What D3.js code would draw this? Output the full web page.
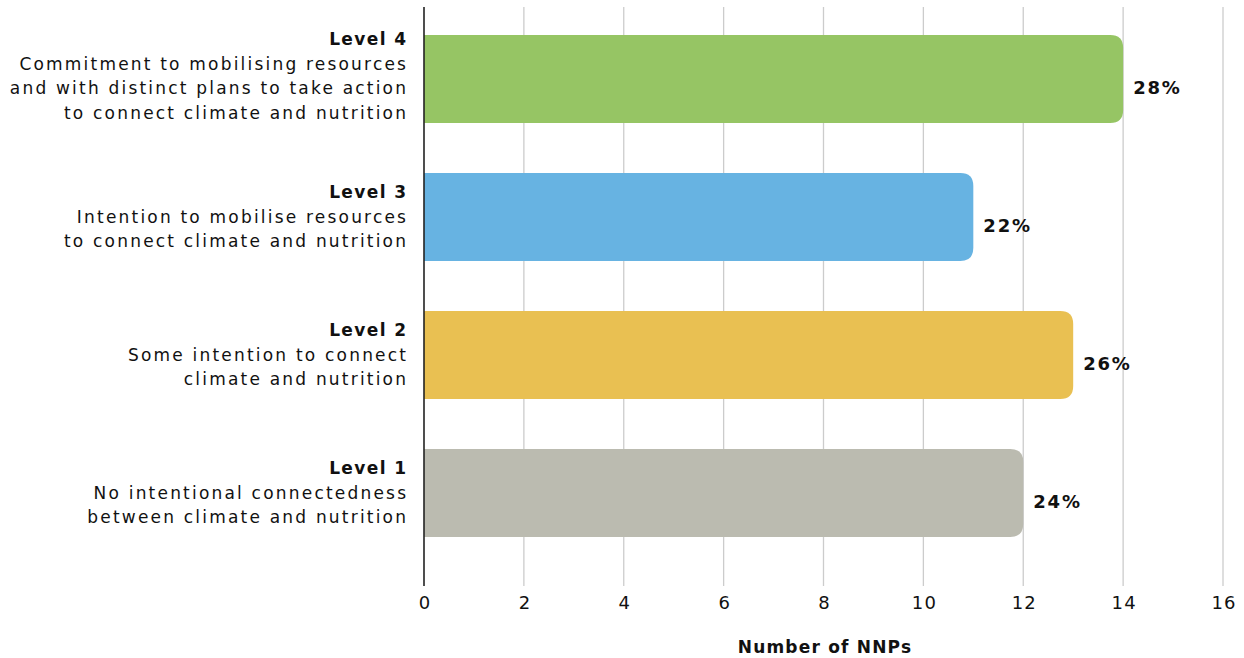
<!DOCTYPE html>
<html><head><meta charset="utf-8">
<script src="https://cdn.jsdelivr.net/npm/d3@7"></script>
<style>body{margin:0;background:#fff;} svg{display:block;font-family:"DejaVu Sans",sans-serif;}</style>
</head><body>
<svg id="chart" width="1244" height="658"></svg>
<script>
const levels = ["Level 4","Level 3","Level 2","Level 1"];
const descriptions = [
  ["Commitment to mobilising resources","and with distinct plans to take action","to connect climate and nutrition"],
  ["Intention to mobilise resources","to connect climate and nutrition"],
  ["Some intention to connect","climate and nutrition"],
  ["No intentional connectedness","between climate and nutrition"]
];
const values = [14, 11, 13, 12];
const percents = ["28%","22%","26%","24%"];
const colors = ["#96c564","#67b3e2","#e9c052","#bbbbb0"];
const xTicks = [0,2,4,6,8,10,12,14,16];
const xTitle = "Number of NNPs";

const svg = d3.select("#chart");
const x = d3.scaleLinear().domain([0,16]).range([424,1223]);
const y = d3.scaleBand().domain(levels).range([10,562]).paddingInner(0.362).paddingOuter(0.181);
const plotTop = 7, plotBottom = 586;
const textColor = "#111";

// gridlines
svg.append("g").selectAll("line").data(xTicks.filter(d=>d>0)).join("line")
  .attr("x1",d=>x(d)).attr("x2",d=>x(d)).attr("y1",plotTop).attr("y2",plotBottom)
  .attr("stroke","#cccccc").attr("stroke-width",1.3);

// axis
const ax = svg.append("g").attr("transform",`translate(0,${plotBottom})`)
  .call(d3.axisBottom(x).tickValues(xTicks).tickSize(0).tickPadding(10));
ax.select(".domain").remove();
ax.selectAll("text").attr("font-size",18).attr("letter-spacing",1.2).attr("dx","0.6")
  .attr("fill",textColor).attr("font-family","DejaVu Sans,sans-serif");

// bars with right rounded corners
const r = 13;
function barPath(x0,x1,y0,h){
  return `M${x0},${y0}H${x1-r}Q${x1},${y0} ${x1},${y0+r}V${y0+h-r}Q${x1},${y0+h} ${x1-r},${y0+h}H${x0}Z`;
}
svg.append("g").selectAll("path").data(levels).join("path")
  .attr("d",(d,i)=>barPath(x(0),x(values[i]),y(d),y.bandwidth()))
  .attr("fill",(d,i)=>colors[i]);

// y axis line
svg.append("line").attr("x1",x(0)).attr("x2",x(0)).attr("y1",plotTop).attr("y2",plotBottom)
  .attr("stroke","#222").attr("stroke-width",1.6);

// value labels
svg.append("g").selectAll("text").data(levels).join("text")
  .attr("x",(d,i)=>x(values[i])+10).attr("y",d=>y(d)+y.bandwidth()/2+9)
  .attr("dy","0.35em").attr("font-size",18).attr("letter-spacing",1.8).attr("font-weight",700).attr("fill",textColor)
  .text((d,i)=>percents[i]);

// category labels
const lh = 24.5;
levels.forEach((lv,i)=>{
  const lines = [lv].concat(descriptions[i]);
  const cy = y(lv)+y.bandwidth()/2 - (i===0?3:0);
  const startY = cy - (lines.length-1)*lh/2;
  const t = svg.append("text").attr("text-anchor","end").attr("font-size",17).attr("fill",textColor);
  lines.forEach((ln,j)=>{
    t.append("tspan").attr("x",j===0?407.5:408.2).attr("y",startY+j*lh).attr("dy","0.35em")
      .attr("letter-spacing",j===0?1.4:2.2)
      .attr("font-weight",j===0?700:400).text(ln);
  });
});

// x title
svg.append("text").attr("x",825).attr("y",647).attr("dy","0.35em").attr("text-anchor","middle")
  .attr("font-size",17).attr("letter-spacing",1.2).attr("font-weight",700).attr("fill",textColor).text(xTitle);
</script>
</body></html>
